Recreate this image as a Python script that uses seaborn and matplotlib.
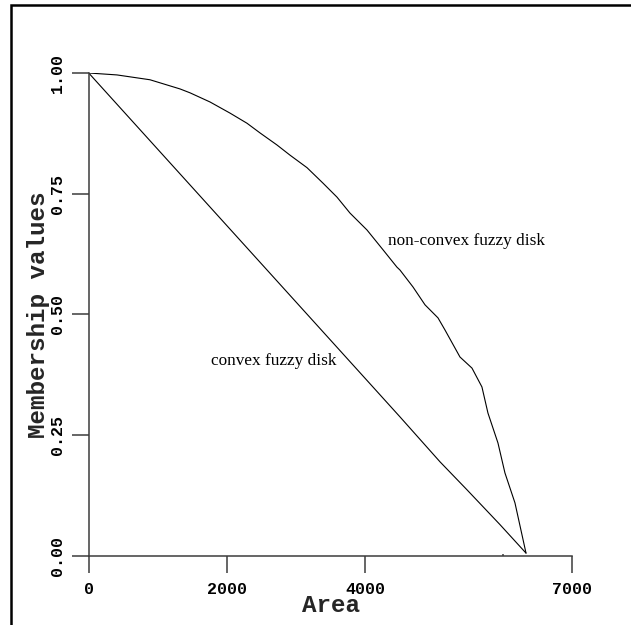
import numpy as np
import pandas as pd
import matplotlib
matplotlib.use("Agg")
import matplotlib.pyplot as plt
from matplotlib.patches import Rectangle
import seaborn as sns

# ---- data ----
nonconvex_area = [0, 410, 887, 1322, 1466, 1756, 2045, 2291, 2479, 2725, 2913, 3160,
                  3391, 3594, 3782, 4028, 4260, 4462, 4506, 4694, 4868, 5056, 5157,
                  5374, 5548, 5692, 5779, 5924, 6025, 6170, 6330]
nonconvex_value = [1.000, 0.996, 0.986, 0.967, 0.959, 0.940, 0.917, 0.896, 0.876, 0.851,
                   0.830, 0.804, 0.772, 0.743, 0.710, 0.675, 0.634, 0.598, 0.592, 0.557,
                   0.520, 0.493, 0.468, 0.412, 0.389, 0.350, 0.296, 0.234, 0.172, 0.110,
                   0.006]
convex_area = [0, 1000, 2000, 3000, 4000, 4506, 5085, 5476, 5953, 6330]
convex_value = [1.000, 0.842, 0.684, 0.526, 0.368, 0.288, 0.195, 0.137, 0.065, 0.006]

x_ticks = [0, 2000, 4000, 7000]
x_ticklabels = ["0", "2000", "4000", "7000"]
y_ticks = [0.0, 0.25, 0.5, 0.75, 1.0]
y_ticklabels = ["0.00", "0.25", "0.50", "0.75", "1.00"]

df = pd.concat([
    pd.DataFrame({"Area": nonconvex_area, "Membership": nonconvex_value, "shape": "non-convex"}),
    pd.DataFrame({"Area": convex_area, "Membership": convex_value, "shape": "convex"}),
])

sns.set_theme(style="white")
plt.rcParams["font.family"] = ["Liberation Mono", "DejaVu Sans"]

W, H = 631, 625
fig = plt.figure(figsize=(W / 100, H / 100), dpi=100)
fig.patch.set_facecolor("white")
ax = fig.add_axes([88.7 / W, 1 - 556 / H, (572.3 - 88.7) / W, (556 - 73) / H])
ax.set_facecolor("white")

sns.lineplot(data=df, x="Area", y="Membership", units="shape", estimator=None,
             color="black", linewidth=0.8, sort=False, ax=ax, legend=False)

ax.set_xlim(0, 7000)
ax.set_ylim(0, 1)
axis_col = "#3c3c3c"
for s in ["top", "right"]:
    ax.spines[s].set_visible(False)
for s in ["left", "bottom"]:
    ax.spines[s].set_color(axis_col)
    ax.spines[s].set_linewidth(1.1)
ax.spines["left"].set_bounds(0, 1)
ax.spines["bottom"].set_bounds(0, 7000)

ax.set_xticks(x_ticks)
ax.set_xticklabels(x_ticklabels, fontweight="bold", fontsize=12)
ax.set_xticks([6000], minor=True)
ax.set_yticks(y_ticks)
ax.set_yticklabels(y_ticklabels, fontweight="bold", fontsize=12, rotation=90, va="center")
ax.tick_params(axis="both", which="major", direction="out", length=12, width=1.1,
               color=axis_col, labelcolor="black", bottom=True, left=True)
ax.tick_params(axis="x", which="major", pad=7)
ax.tick_params(axis="y", which="major", pad=5)
ax.tick_params(axis="x", which="minor", direction="in", length=1.5, width=1.1,
               color=axis_col, bottom=True)
ax.set_xlabel("")
ax.set_ylabel("")

fig.text(39 / W, 1 - 314.5 / H, "Membership values", rotation=90, ha="center", va="center",
         fontsize=17.5, fontweight="bold")
fig.text(330.5 / W, 1 - 606 / H, "Area", ha="center", va="center",
         fontsize=17.5, fontweight="bold")

ax.text(4332, 0.644, "non-convex fuzzy disk", family=["Liberation Serif"], fontsize=12.4,
        va="baseline", ha="left", color="black")
ax.text(1766, 0.395, "convex fuzzy disk", family=["Liberation Serif"], fontsize=12.4,
        va="baseline", ha="left", color="black")

fig.patches.append(Rectangle((11 / W, -0.05), 1.2, (H - 4.5) / H + 0.05, transform=fig.transFigure,
                             fill=False, edgecolor="black", linewidth=1.8, clip_on=False))

fig.savefig("out.png", dpi=100, facecolor="white")
